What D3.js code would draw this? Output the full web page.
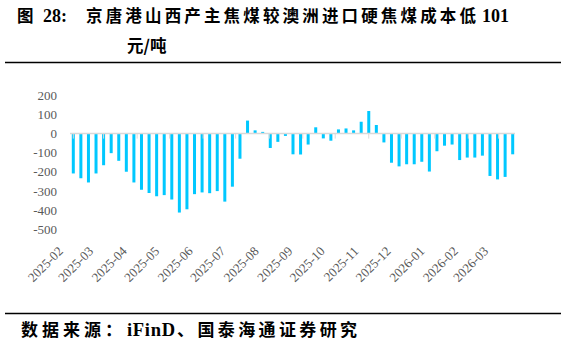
<!DOCTYPE html>
<html>
<head>
<meta charset="utf-8">
<script src="https://cdn.jsdelivr.net/npm/d3@7/dist/d3.min.js"></script>
<style>
  html, body { margin: 0; padding: 0; background: #fff; }
  svg { display: block; }
</style>
</head>
<body>
<svg id="chart" width="566" height="345"></svg>
<script>
// ---------- data ----------
const dates = [
  "2025-02-07","2025-02-14","2025-02-21","2025-02-28",
  "2025-03-07","2025-03-14","2025-03-21","2025-03-28",
  "2025-04-04","2025-04-11","2025-04-18","2025-04-25",
  "2025-05-02","2025-05-09","2025-05-16","2025-05-23","2025-05-30",
  "2025-06-06","2025-06-13","2025-06-20","2025-06-27",
  "2025-07-04","2025-07-11","2025-07-18","2025-07-25",
  "2025-08-01","2025-08-08","2025-08-15","2025-08-22","2025-08-29",
  "2025-09-05","2025-09-12","2025-09-19","2025-09-26",
  "2025-10-03","2025-10-10","2025-10-17","2025-10-24","2025-10-31",
  "2025-11-07","2025-11-14","2025-11-21","2025-11-28",
  "2025-12-05","2025-12-12","2025-12-19","2025-12-26",
  "2026-01-02","2026-01-09","2026-01-16","2026-01-23","2026-01-30",
  "2026-02-06","2026-02-13","2026-02-20","2026-02-27",
  "2026-03-06","2026-03-13","2026-03-20"
];
const spread = [
  -208,-233,-255,-208,-165,-102,-142,-199,-255,-293,
  -310,-327,-321,-344,-412,-395,-316,-307,-311,-300,
  -355,-277,-131,68,17,9,-75,-43,-12,-108,
  -109,-57,33,-25,-37,22,27,17,62,118,
  45,-46,-152,-171,-160,-160,-147,-198,-92,-63,
  -57,-138,-125,-125,-115,-221,-239,-226,-108
];
const monthLabels = [
  "2025-02","2025-03","2025-04","2025-05","2025-06","2025-07","2025-08",
  "2025-09","2025-10","2025-11","2025-12","2026-01","2026-02","2026-03"
];
const yTicks = [200, 100, 0, -100, -200, -300, -400, -500];

const titleLine1 = "京唐港山西产主焦煤较澳洲进口硬焦煤成本低";
const titleNum = "101";
const titleLine2 = "元/吨";
const sourceText = "数据来源：";
const sourceText2 = "iFinD";
const sourceText3 = "、国泰海通证券研究";

// ---------- setup ----------
const svg = d3.select("#chart");
const parse = d3.timeParse("%Y-%m-%d");
const data = dates.map((d, i) => ({ date: parse(d), v: spread[i] }));

const x = d3.scaleTime()
  .domain(d3.extent(data, d => d.date))
  .range([73.3, 512.7]);
const y = d3.scaleLinear().domain([-500, 200]).range([229.4, 95.3]);

const cjk = "'Noto Sans CJK SC', 'Noto Sans', sans-serif";
const serif = "'Liberation Serif', 'DejaVu Serif', serif";

// ---------- title ----------
function txt(xp, yp, s, fam, size, len) {
  const e = svg.append("text").attr("x", xp).attr("y", yp)
    .attr("font-family", fam).attr("font-size", size)
    .attr("font-weight", 700).attr("fill", "#000").text(s);
  if (len) e.attr("textLength", len).attr("lengthAdjust", "spacing");
  return e;
}
txt(17, 22, "图", cjk, 16.5);
txt(43, 22, "28:", serif, 18);
txt(86, 22, titleLine1, cjk, 16.5, 390);
txt(482, 22, titleNum, serif, 18);
txt(127, 52, titleLine2, cjk, 16.5);

svg.append("line").attr("x1", 5).attr("x2", 561).attr("y1", 62.5).attr("y2", 62.5)
  .attr("stroke", "#000").attr("stroke-width", 1.3);

// ---------- y axis labels ----------
svg.append("g").selectAll("text").data(yTicks).join("text")
  .attr("x", 57).attr("y", d => y(d)).attr("dy", "0.35em")
  .attr("text-anchor", "end").attr("font-family", serif)
  .attr("font-size", 13).attr("fill", "#595959")
  .text(d => d);

// ---------- bars ----------
const bw = 3;
svg.append("g").selectAll("rect").data(data).join("rect")
  .attr("x", d => x(d.date) - bw / 2)
  .attr("width", bw)
  .attr("y", d => y(Math.max(0, d.v)))
  .attr("height", d => Math.abs(y(d.v) - y(0)))
  .attr("fill", "#00C8FF");

// ---------- zero axis ----------
const ticksDates = monthLabels.map((m, i) => d3.timeMonth.offset(data[0].date, i));
svg.append("line").attr("x1", 70).attr("x2", 515).attr("y1", y(0)).attr("y2", y(0))
  .attr("stroke", "#D9D9D9").attr("stroke-width", 1.5);
svg.append("g").selectAll("line").data(ticksDates).join("line")
  .attr("x1", d => x(d)).attr("x2", d => x(d))
  .attr("y1", y(0)).attr("y2", y(0) + 5)
  .attr("stroke", "#D9D9D9").attr("stroke-width", 1);

// ---------- x labels ----------
svg.append("g").selectAll("text").data(monthLabels).join("text")
  .attr("transform", (d, i) => `translate(${x(ticksDates[i]) - 9.5},${252}) rotate(-45)`)
  .attr("text-anchor", "end")
  .attr("font-family", serif).attr("font-size", 13).attr("fill", "#595959")
  .text(d => d);

// ---------- footer ----------
svg.append("line").attr("x1", 5).attr("x2", 561).attr("y1", 313.5).attr("y2", 313.5)
  .attr("stroke", "#000").attr("stroke-width", 1.3);
txt(21, 336, sourceText, cjk, 17, 101);
txt(127, 336, sourceText2, serif, 18.5, 48);
txt(177, 336, sourceText3, cjk, 17, 180);
</script>
</body>
</html>
